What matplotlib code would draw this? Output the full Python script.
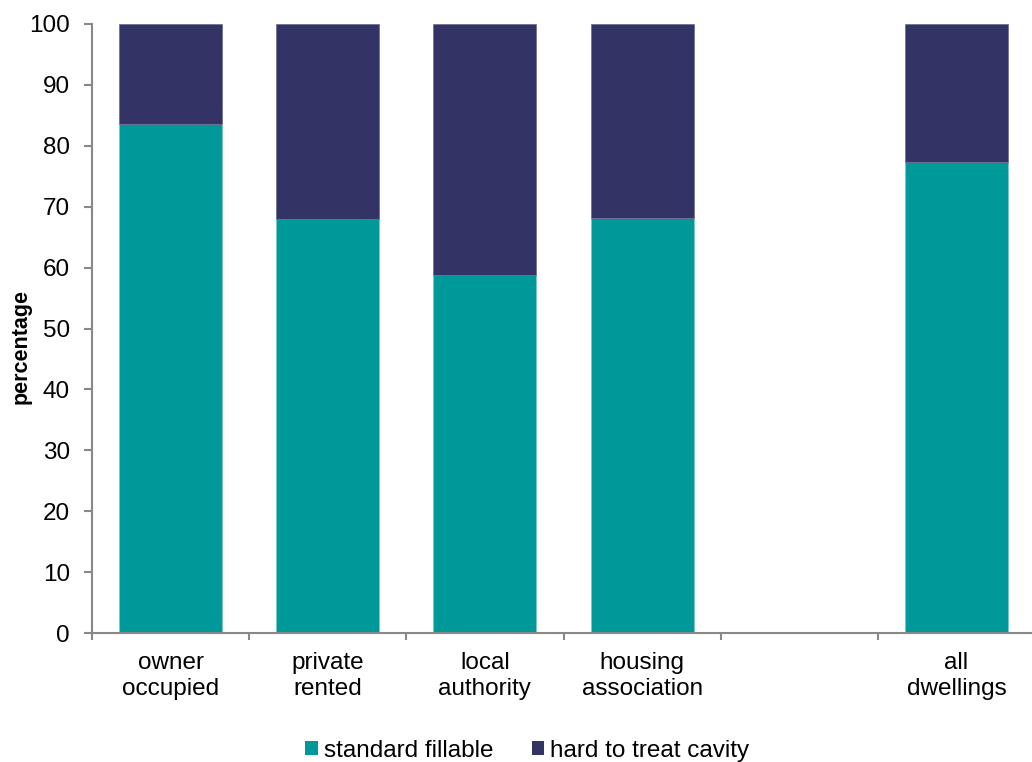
import matplotlib
matplotlib.use("Agg")
import matplotlib.pyplot as plt
from matplotlib.patches import Patch
import numpy as np

categories = ["owner\noccupied", "private\nrented", "local\nauthority", "housing\nassociation", "", "all\ndwellings"]
standard_fillable = [83.6, 67.9, 58.8, 68.1, np.nan, 77.3]
hard_to_treat = [16.4, 32.1, 41.2, 31.9, np.nan, 22.7]
series_names = ["standard fillable", "hard to treat cavity"]
colors = ["#009999", "#333366"]

plt.rcParams["font.family"] = ["Liberation Sans", "DejaVu Sans"]

fig = plt.figure(figsize=(10.32, 7.62), dpi=100)
ax = fig.add_axes([92/1032, 129/762, 943/1032, 609/762])

x = np.arange(len(categories))
sf = np.array(standard_fillable, dtype=float)
ht = np.array(hard_to_treat, dtype=float)
mask = ~np.isnan(sf)
w = 0.656
ax.bar(x[mask], sf[mask], width=w, color=colors[0], edgecolor="#7fc6c6", linewidth=0.5)
ax.bar(x[mask], ht[mask], bottom=sf[mask], width=w, color=colors[1], edgecolor="#6a6a90", linewidth=0.5)

ax.set_xlim(-0.5, len(categories) - 0.5)
ax.set_ylim(0, 100)
ax.set_yticks(np.arange(0, 101, 10))
ax.set_xticks(np.arange(-0.5, len(categories), 1.0))
ax.set_xticklabels([])
ax.set_xticks(x, minor=True)
ax.set_xticklabels(categories, minor=True, fontsize=17.5, linespacing=1.2)
ax.tick_params(axis="x", which="minor", length=0, pad=14)
ax.tick_params(axis="x", which="major", length=5, width=1.5, color="#888888", direction="out")
ax.tick_params(axis="y", length=6, width=1.5, color="#888888", pad=10, labelsize=17.5)

for s in ["top", "right"]:
    ax.spines[s].set_visible(False)
for s in ["left", "bottom"]:
    ax.spines[s].set_color("#888888")
    ax.spines[s].set_linewidth(1.5)

ax.set_ylabel("percentage", fontsize=15.5, fontweight="bold")
ax.yaxis.set_label_coords(-60/943, (633-347)/609)

handles = [Patch(facecolor=c, edgecolor="none") for c in colors]
fig.legend(handles, series_names, loc="center", bbox_to_anchor=(0.511, 11/762), ncol=2,
           frameon=False, fontsize=17.5, handlelength=0.5, handleheight=0.5,
           handletextpad=0.25, columnspacing=1.6)

fig.savefig("out.png", dpi=100)
